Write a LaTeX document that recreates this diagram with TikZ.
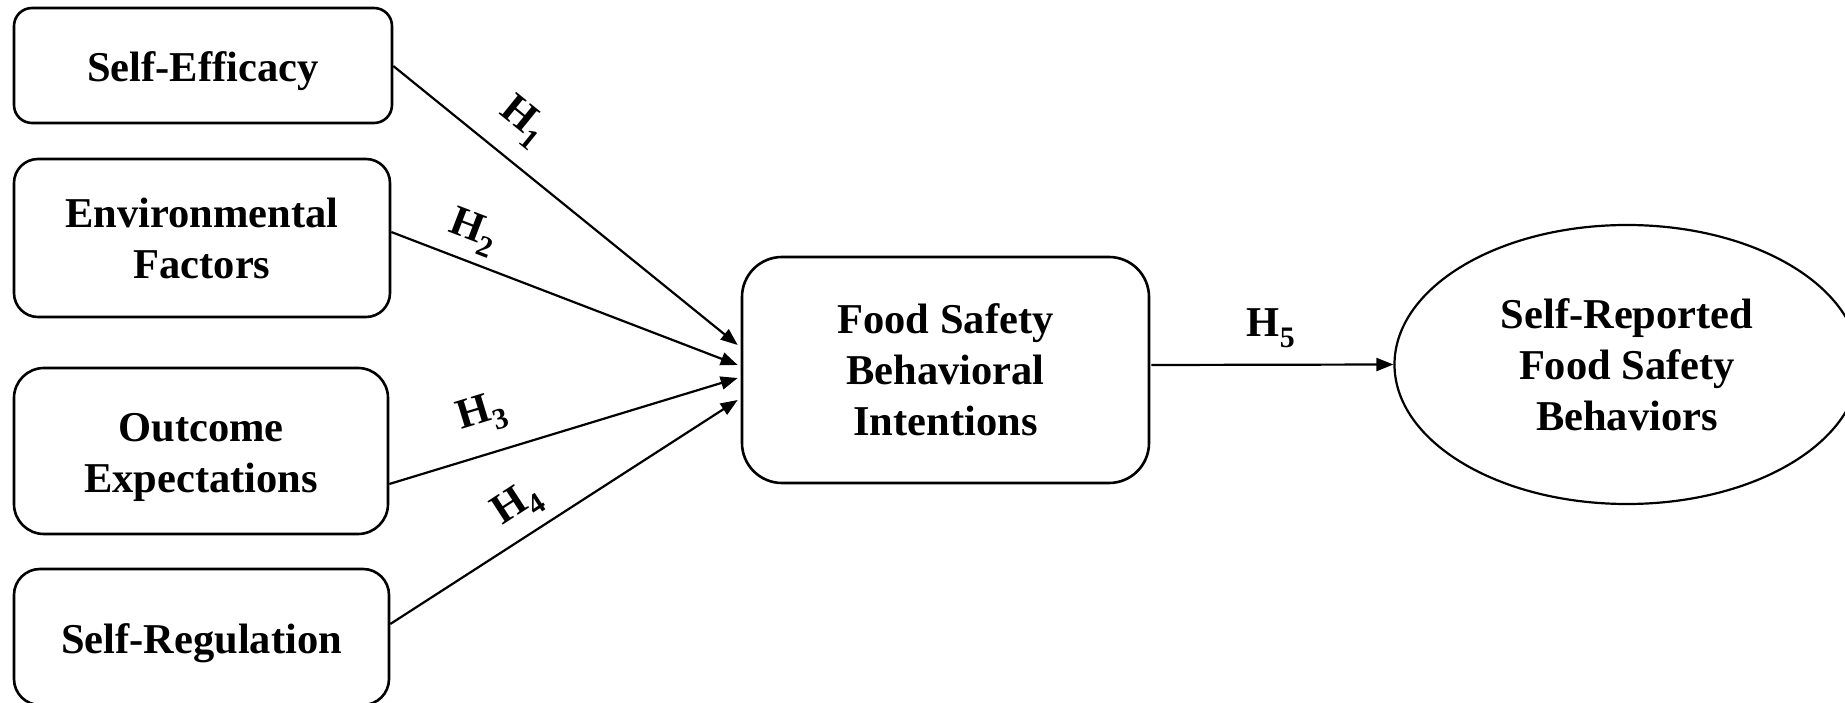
\documentclass[tikz,border=0pt]{standalone}
\usepackage{fontspec}
\setmainfont{Liberation Serif}
\usetikzlibrary{arrows.meta,calc,shapes.geometric}
\begin{document}
\begin{tikzpicture}[x=1pt,y=-1pt,
  txt/.style={font=\bfseries\fontsize{42.5}{51}\selectfont},
  box/.style={draw, line width=2.6pt, rounded corners=#1, align=center, inner sep=0pt, txt},
  box/.default=18pt,
  lbl/.style={align=center, inner sep=0pt, txt},
  link/.style={line width=2.2pt, -{Triangle[length=17pt,width=13pt]}},
  hyp/.style={txt, inner sep=0pt}
]
\useasboundingbox (0,0) rectangle (1845,703);
\clip (0,0) rectangle (1845,703);
\node[box=18pt, minimum width=378pt, minimum height=115pt] (b1) at (203,65.5) {};
\node[lbl] (t1) at ($(b1.center)+(0,6)$) {Self-Efficacy};
\node[box=24pt, minimum width=376pt, minimum height=158pt] (b2) at (202,238) {Environmental\\Factors};
\node[box=30pt, minimum width=374pt, minimum height=166pt] (b3) at (201,451) {};
\node[lbl] (t3) at ($(b3.center)+(0,6)$) {Outcome\\Expectations};
\node[box=26pt, minimum width=375pt, minimum height=136pt] (b4) at (201.5,637) {};
\node[lbl] (t4) at ($(b4.center)+(0,6)$) {Self-Regulation};
\node[box=40pt, minimum width=407pt, minimum height=226pt] (fs) at (945.5,370) {Food Safety\\Behavioral\\Intentions};
\node[draw, ellipse, line width=2.2pt, minimum width=465pt, minimum height=279pt, inner sep=0pt, align=center, txt] (el) at (1627,364.5) {Self-Reported\\Food Safety\\Behaviors};

\draw[link] ($(b1.east)+(0,0.5)$) -- ($(fs.west)+(-3,-25)$);
\draw[link] ($(b2.east)+(0,-6)$) -- ($(fs.west)+(-3,-5)$);
\draw[link] ($(b3.east)+(0,33)$) -- ($(fs.west)+(-3,8)$);
\draw[link] ($(b4.east)+(0,-13)$) -- ($(fs.west)+(-3,30)$);
\draw[link] ($(fs.east)+(1,-5)$) -- (el.west);

\node[hyp, rotate=-39] (h1) at (523,122) {H\textsubscript{1}};
\node[hyp, rotate=-21] (h2) at (473,232) {H\textsubscript{2}};
\node[hyp, rotate=17] (h3) at (482,415) {H\textsubscript{3}};
\node[hyp, rotate=33] (h4) at (518,505) {H\textsubscript{4}};
\node[hyp] (h5) at (1271,328) {H\textsubscript{5}};
\end{tikzpicture}
\end{document}
